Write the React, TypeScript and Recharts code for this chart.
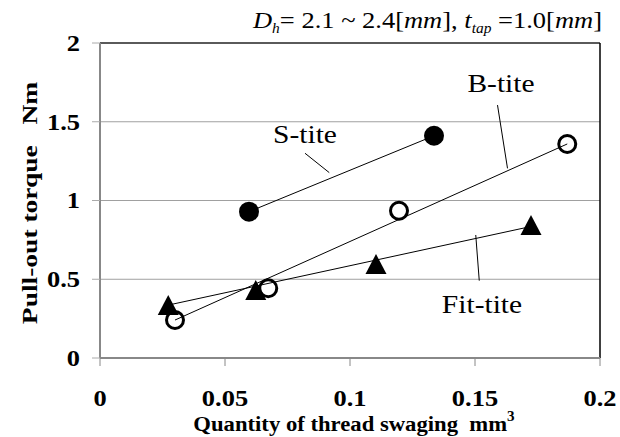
import React from "react";
import {
  ScatterChart,
  Scatter,
  XAxis,
  YAxis,
  CartesianGrid,
  ReferenceLine,
  ReferenceDot,
} from "recharts";

// ---- data ----
const xTicks = [0, 0.05, 0.1, 0.15, 0.2];
const yTicks = [0, 0.5, 1, 1.5, 2];

const sTite = [
  { x: 0.0596, y: 0.929 },
  { x: 0.1336, y: 1.411 },
];
const bTite = [
  { x: 0.03, y: 0.241 },
  { x: 0.0673, y: 0.443 },
  { x: 0.1196, y: 0.935 },
  { x: 0.1869, y: 1.359 },
];
const fitTite = [
  { x: 0.0273, y: 0.336 },
  { x: 0.0623, y: 0.432 },
  { x: 0.1104, y: 0.597 },
  { x: 0.1724, y: 0.844 },
];

// trend lines (endpoints)
const sTiteLine = [
  { x: 0.0596, y: 0.929 },
  { x: 0.1336, y: 1.411 },
];
const bTiteLine = [
  { x: 0.03, y: 0.241 },
  { x: 0.1869, y: 1.359 },
];
const fitTiteLine = [
  { x: 0.0273, y: 0.336 },
  { x: 0.1724, y: 0.835 },
];

// annotation labels and leader lines
const labelNames = ["S-tite", "B-tite", "Fit-tite"];
const labelAnchors = [
  { x: 0.082, y: 1.422 },
  { x: 0.1604, y: 1.74 },
  { x: 0.1528, y: 0.337 },
];
const leaders = [
  [{ x: 0.082, y: 1.3 }, { x: 0.0917, y: 1.177 }],
  [{ x: 0.159, y: 1.606 }, { x: 0.163, y: 1.204 }],
  [{ x: 0.1503, y: 0.781 }, { x: 0.1517, y: 0.491 }],
];

const SERIF = "'Liberation Serif', 'Times New Roman', serif";
const STRETCH = 1.15;

const FilledCircle = (p: any) => (
  <circle cx={p.cx} cy={p.cy} r={10} fill="#000" />
);
const OpenCircle = (p: any) => (
  <circle cx={p.cx} cy={p.cy} r={8.5} fill="none" stroke="#000" strokeWidth={3} />
);
const Triangle = (p: any) => {
  const w = 21;
  const h = 20;
  const cx = p.cx;
  const cy = p.cy;
  return (
    <polygon
      points={`${cx},${cy - h / 2} ${cx + w / 2},${cy + h / 2} ${cx - w / 2},${cy + h / 2}`}
      fill="#000"
    />
  );
};

const XTick = (p: any) => (
  <g transform={`translate(${p.x},${p.y})`}>
    <text
      transform={`scale(${STRETCH},1)`}
      textAnchor="middle"
      dy="0.71em"
      fontFamily={SERIF}
      fontWeight="bold"
      fontSize={23}
      fill="#000"
    >
      {p.payload.value}
    </text>
  </g>
);

const YTick = (p: any) => (
  <g transform={`translate(${p.x},${p.y})`}>
    <text
      transform={`scale(${STRETCH},1)`}
      textAnchor="end"
      dy="0.34em"
      fontFamily={SERIF}
      fontWeight="bold"
      fontSize={23}
      fill="#000"
    >
      {p.payload.value}
    </text>
  </g>
);

const makeAnno = (text: string) => (p: any) => (
  <g transform={`translate(${p.cx},${p.cy})`}>
    <text
      transform="scale(1.18,1)"
      textAnchor="middle"
      dy="0.34em"
      fontFamily={SERIF}
      fontSize={25}
      fill="#000"
    >
      {text}
    </text>
  </g>
);

const YLabel = () => (
  <g transform="translate(30,203) rotate(-90) scale(1.25,1)">
    <text
      textAnchor="middle"
      dy="0.34em"
      fontFamily={SERIF}
      fontWeight="bold"
      fontSize={22}
      fill="#000"
      style={{ whiteSpace: "pre" }}
    >
      {"Pull-out torque   Nm"}
    </text>
  </g>
);

const XLabel = () => (
  <g transform="translate(354,431) scale(1.08,1)">
    <text
      textAnchor="middle"
      fontFamily={SERIF}
      fontWeight="bold"
      fontSize={21}
      fill="#000"
      style={{ whiteSpace: "pre" }}
    >
      {"Quantity of thread swaging  mm"}
      <tspan dy={-10} fontSize={14}>3</tspan>
    </text>
  </g>
);

export default function App() {
  return (
    <div style={{ position: "absolute", left: 0, top: 0, width: 620, height: 437, background: "#fff" }}>
      <ScatterChart
        width={620}
        height={437}
        margin={{ top: 43, right: 20, bottom: 0, left: 0 }}
      >
        <CartesianGrid horizontal vertical={false} stroke="#a0a0a0" strokeWidth={1} />
        <XAxis
          type="number"
          dataKey="x"
          domain={[0, 0.2]}
          ticks={xTicks}
          height={79}
          tickSize={8}
          tickMargin={24}
          axisLine={{ stroke: "#888", strokeWidth: 2 }}
          tickLine={{ stroke: "#888", strokeWidth: 1 }}
          tick={<XTick />}
          label={<XLabel />}
        />
        <YAxis
          type="number"
          dataKey="y"
          domain={[0, 2]}
          ticks={yTicks}
          width={100}
          tickSize={8}
          tickMargin={12}
          axisLine={{ stroke: "#888", strokeWidth: 2 }}
          tickLine={{ stroke: "#aaa", strokeWidth: 1 }}
          tick={<YTick />}
          label={<YLabel />}
        />
        <ReferenceLine y={2} stroke="#333" strokeWidth={1.5} />
        <ReferenceLine x={0.2} stroke="#000" strokeWidth={1.5} />

        <ReferenceLine segment={sTiteLine} stroke="#000" strokeWidth={1} />
        <ReferenceLine segment={bTiteLine} stroke="#000" strokeWidth={1} />
        <ReferenceLine segment={fitTiteLine} stroke="#000" strokeWidth={1} />
        {leaders.map((seg, i) => (
          <ReferenceLine key={"l" + i} segment={seg} stroke="#000" strokeWidth={1} />
        ))}
        {labelAnchors.map((a, i) => (
          <ReferenceDot
            key={"d" + i}
            x={a.x}
            y={a.y}
            r={1}
            shape={makeAnno(labelNames[i])}
          />
        ))}

        <Scatter data={fitTite} shape={Triangle} isAnimationActive={false} />
        <Scatter data={bTite} shape={OpenCircle} isAnimationActive={false} />
        <Scatter data={sTite} shape={FilledCircle} isAnimationActive={false} />
      </ScatterChart>
      <svg
        width={620}
        height={40}
        style={{ position: "absolute", left: 0, top: 0, overflow: "visible" }}
      >
        <text
          x={253}
          y={28}
          fontFamily={SERIF}
          fontSize={24}
          fill="#000"
          textLength={349}
          lengthAdjust="spacingAndGlyphs"
          style={{ whiteSpace: "pre" }}
        >
          <tspan fontStyle="italic">D</tspan>
          <tspan fontStyle="italic" fontSize={14} dy={5}>h</tspan>
          <tspan dy={-5}>{"= 2.1 ~ 2.4["}</tspan>
          <tspan fontStyle="italic">mm</tspan>
          <tspan>{"], "}</tspan>
          <tspan fontStyle="italic">t</tspan>
          <tspan fontStyle="italic" fontSize={14} dy={5}>tap</tspan>
          <tspan dy={-5}>{" =1.0["}</tspan>
          <tspan fontStyle="italic">mm</tspan>
          <tspan>{"]"}</tspan>
        </text>
      </svg>
    </div>
  );
}
